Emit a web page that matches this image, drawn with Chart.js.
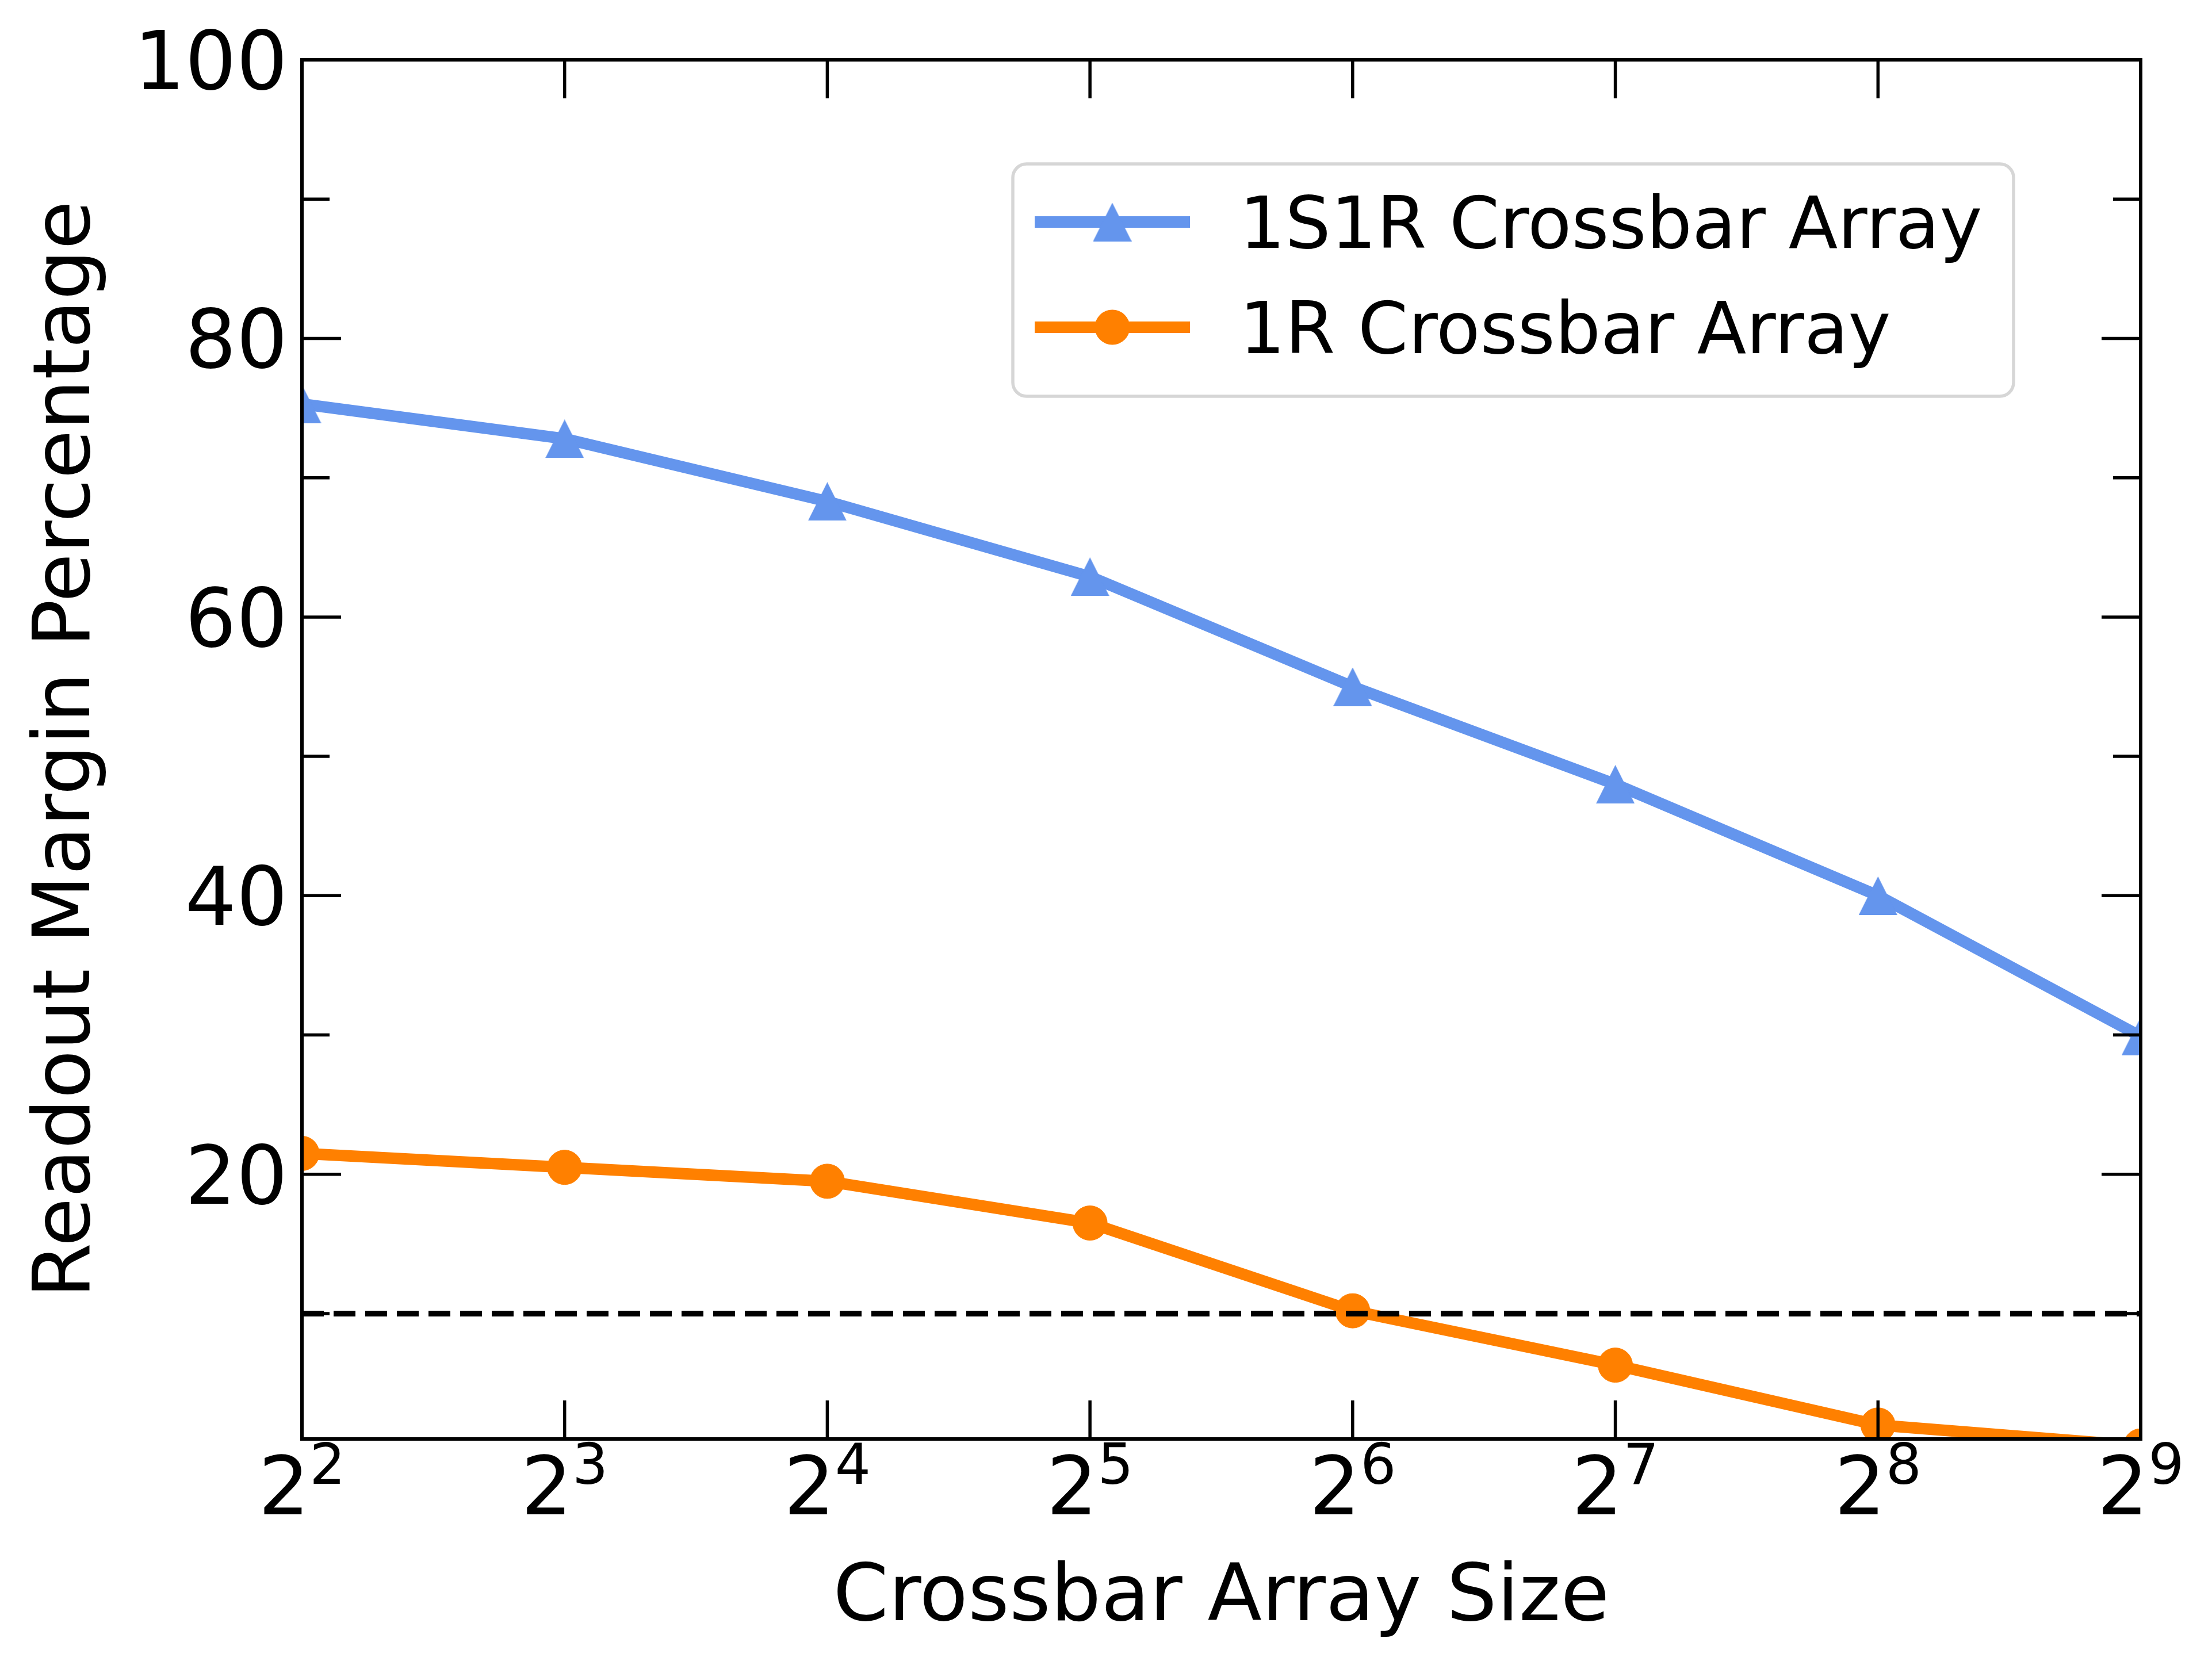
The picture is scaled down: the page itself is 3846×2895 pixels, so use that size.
<!DOCTYPE html>
<html>
<head>
<meta charset="utf-8">
<script src="https://cdn.jsdelivr.net/npm/chart.js@4.4.1/dist/chart.umd.min.js"></script>
<style>
    html, body { margin: 0; padding: 0; background: #ffffff; }
    #wrap { width: 3846px; height: 2895px; }
</style>
</head>
<body>
<div id="wrap"><canvas id="readoutChart" width="3846" height="2895"></canvas></div>
<script>
// Data
const sizeExponents = [2, 3, 4, 5, 6, 7, 8, 9];
const margin1S1R = [75.3, 72.8, 68.3, 62.9, 55.0, 48.0, 40.0, 29.9];
const margin1R = [21.5, 20.5, 19.5, 16.5, 10.2, 6.3, 2.0, 0.5];
const thresholdLine = [10, 10, 10, 10, 10, 10, 10, 10];
const yMajorTicks = [20, 40, 60, 80, 100];
const yMinorTicks = [10, 30, 50, 70, 90];
const seriesNames = ["1S1R Crossbar Array", "1R Crossbar Array"];

const BLUE = "#6495ed";
const ORANGE = "#ff8000";
const FONT = "'DejaVu Sans', sans-serif";

// matplotlib "^" marker is as wide as it is tall
function makeTriangle(size, color) {
    const c = document.createElement("canvas");
    c.width = size;
    c.height = size;
    const g = c.getContext("2d");
    g.fillStyle = color;
    g.beginPath();
    g.moveTo(size / 2, 0);
    g.lineTo(size, size);
    g.lineTo(0, size);
    g.closePath();
    g.fill();
    return c;
}
const triangleMarker = makeTriangle(67, BLUE);

// Frame, inward ticks, tick labels, titles and legend
const axesDecor = {
    id: "axesDecor",
    afterDraw(chart) {
        const ctx = chart.ctx;
        const a = chart.chartArea;
        const xs = chart.scales.x;
        const ys = chart.scales.y;

        ctx.save();
        ctx.strokeStyle = "#000";
        ctx.fillStyle = "#000";

        // ticks
        ctx.lineWidth = 5.5;
        ctx.beginPath();
        yMajorTicks.forEach((v) => {
            const py = ys.getPixelForValue(v);
            ctx.moveTo(a.left, py); ctx.lineTo(a.left + 68, py);
            ctx.moveTo(a.right, py); ctx.lineTo(a.right - 68, py);
        });
        yMinorTicks.forEach((v) => {
            const py = ys.getPixelForValue(v);
            ctx.moveTo(a.left, py); ctx.lineTo(a.left + 48, py);
            ctx.moveTo(a.right, py); ctx.lineTo(a.right - 48, py);
        });
        sizeExponents.forEach((e, i) => {
            const px = xs.getPixelForValue(i);
            ctx.moveTo(px, a.bottom); ctx.lineTo(px, a.bottom - 67);
            ctx.moveTo(px, a.top); ctx.lineTo(px, a.top + 67);
        });
        ctx.stroke();

        // frame
        ctx.lineWidth = 6;
        ctx.strokeRect(a.left, a.top, a.right - a.left, a.bottom - a.top);

        // y tick labels
        ctx.font = "140px " + FONT;
        ctx.textAlign = "right";
        ctx.textBaseline = "alphabetic";
        yMajorTicks.forEach((v) => {
            ctx.fillText(String(v), 500, ys.getPixelForValue(v) + 51);
        });

        // x tick labels: 2 with superscript exponent
        ctx.textAlign = "left";
        sizeExponents.forEach((e, i) => {
            const px = xs.getPixelForValue(i);
            ctx.font = "140px " + FONT;
            const wb = ctx.measureText("2").width;
            ctx.font = "98px " + FONT;
            const we = ctx.measureText(String(e)).width;
            const x0 = px - (wb + we) / 2;
            ctx.font = "140px " + FONT;
            ctx.fillText("2", x0, 2633);
            ctx.font = "98px " + FONT;
            ctx.fillText(String(e), x0 + wb, 2580);
        });

        // axis titles
        ctx.font = "138px " + FONT;
        ctx.textAlign = "center";
        ctx.fillText("Crossbar Array Size", (a.left + a.right) / 2, 2817);
        ctx.save();
        ctx.translate(155, (a.top + a.bottom) / 2);
        ctx.rotate(-Math.PI / 2);
        ctx.fillText("Readout Margin Percentage", 0, 0);
        ctx.restore();

        // legend
        const bx = 1761, by = 285, bw = 1740, bh = 404;
        ctx.beginPath();
        ctx.roundRect(bx, by, bw, bh, 24);
        ctx.fillStyle = "#ffffff";
        ctx.fill();
        ctx.lineWidth = 5.5;
        ctx.strokeStyle = "#d6d6d6";
        ctx.stroke();

        const colors = [BLUE, ORANGE];
        seriesNames.forEach((name, i) => {
            const cy = 386 + i * 183;
            ctx.strokeStyle = colors[i];
            ctx.lineWidth = 20;
            ctx.beginPath();
            ctx.moveTo(1799, cy);
            ctx.lineTo(2069, cy);
            ctx.stroke();
            if (i === 0) {
                ctx.drawImage(triangleMarker, 1934 - 33.5, cy - 33.5);
            } else {
                ctx.fillStyle = ORANGE;
                ctx.beginPath();
                ctx.arc(1934, cy, 30.5, 0, Math.PI * 2);
                ctx.fill();
            }
            ctx.fillStyle = "#000";
            ctx.font = "125px " + FONT;
            ctx.textAlign = "left";
            ctx.fillText(name, 2155, cy + 45);
        });

        ctx.restore();
    },
};

new Chart(document.getElementById("readoutChart"), {
    type: "line",
    data: {
        labels: sizeExponents.map((e) => "2^" + e),
        datasets: [
            {
                label: "threshold",
                data: thresholdLine,
                borderColor: "#000",
                borderWidth: 10,
                borderDash: [38, 17],
                pointRadius: 0,
                clip: 0,
                order: 0,
            },
            {
                label: seriesNames[1],
                data: margin1R,
                borderColor: ORANGE,
                backgroundColor: ORANGE,
                borderWidth: 20,
                pointStyle: "circle",
                pointRadius: 30,
                pointBorderWidth: 1,
                pointBackgroundColor: ORANGE,
                pointBorderColor: ORANGE,
                clip: 0,
                order: 1,
            },
            {
                label: seriesNames[0],
                data: margin1S1R,
                borderColor: BLUE,
                backgroundColor: BLUE,
                borderWidth: 20,
                pointStyle: triangleMarker,
                pointRadius: 34,
                clip: 0,
                order: 2,
            },
        ],
    },
    options: {
        responsive: false,
        devicePixelRatio: 1,
        animation: false,
        events: [],
        layout: {
            padding: { left: 525, top: 104, right: 124, bottom: 393 },
        },
        scales: {
            x: {
                type: "category",
                offset: false,
                display: false,
            },
            y: {
                type: "linear",
                min: 1,
                max: 100,
                display: false,
            },
        },
        plugins: {
            legend: { display: false },
            tooltip: { enabled: false },
        },
    },
    plugins: [axesDecor],
});
</script>
</body>
</html>
